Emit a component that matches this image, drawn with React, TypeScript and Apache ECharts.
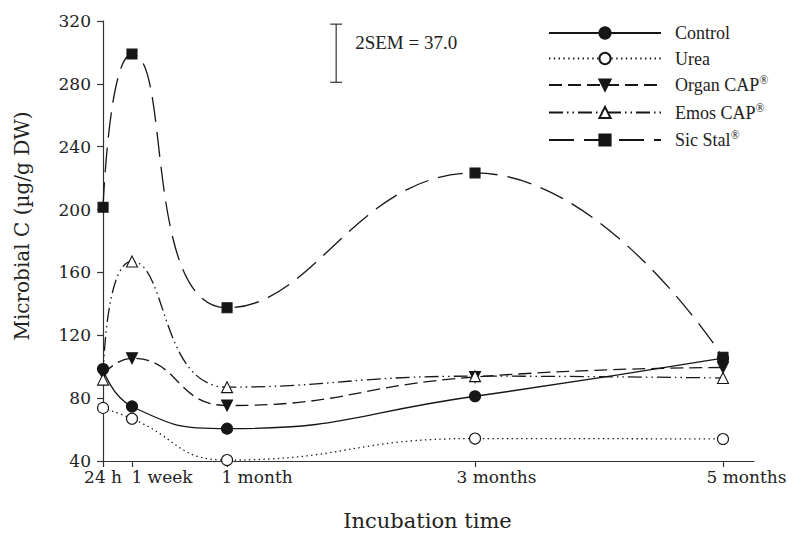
import React, { useEffect, useRef } from "react";
import * as echarts from "echarts";

// Incubation time in days (24 h plotted at day 0)
const days = [0, 7, 30, 90, 150];
const tickLabels = ["24 h", "1 week", "1 month", "3 months", "5 months"];

const seriesNames = ["Control", "Urea", "Organ CAP®", "Emos CAP®", "Sic Stal®"];
const control = [98.5, 74.7, 60.6, 81.2, 105.4];
const urea = [73.8, 66.9, 40.6, 54.3, 54.0];
const organCap = [95.3, 105.4, 75.3, 93.5, 99.5];
const emosCap = [91.8, 167, 87, 94, 92.8];
const sicStal = [201.5, 299, 137.5, 223.3, 106];

const semDay = 56.4;
const semLow = 281;
const semHigh = 318;
const semLabel = "2SEM = 37.0";
const yTitle = "Microbial C (µg/g DW)";
const xTitle = "Incubation time";

const INK = "#161616";
const AXIS = "#333";
const labelPad = [0, 60, 60, 43, 47];

export default function App() {
  const ref = useRef<HTMLDivElement>(null);
  useEffect(() => {
    document.body.style.margin = "0";
    if (!ref.current) return;
    const chart = echarts.init(ref.current, null, { renderer: "svg" });
    const pairs = (vals: number[]) => days.map((d, i) => [d, vals[i]]);
    const lineSeries = (
      name: string,
      vals: number[],
      dash: any,
      symbol: string,
      size: number,
      filled: boolean
    ) => ({
      type: "line",
      name,
      data: pairs(vals),
      smooth: 0.5,
      clip: false,
      symbol,
      symbolSize: size,
      showAllSymbol: true,
      lineStyle: { color: INK, width: 1.3, type: dash },
      itemStyle: {
        color: filled ? INK : "#fff",
        borderColor: INK,
        borderWidth: 1.1,
      },
      emphasis: { disabled: true },
      z: 3,
    });
    const rich: any = {};
    labelPad.forEach((p, i) => {
      rich["l" + i] = {
        padding: [0, 0, 0, p],
        fontFamily: "DejaVu Serif",
        fontSize: 17,
        color: "#222",
      };
    });
    const option: any = {
      animation: false,
      grid: { left: 101, right: 49, top: 21, bottom: 72 },
      graphic: [
        {
          type: "text",
          x: 22,
          y: 226,
          rotation: Math.PI / 2,
          style: {
            text: yTitle,
            fontFamily: "DejaVu Serif",
            fontSize: 20,
            fill: "#222",
            align: "center",
            verticalAlign: "middle",
          },
        },
      ],
      xAxis: {
        type: "value",
        min: -0.5,
        max: 157.5,
        splitLine: { show: false },
        axisLine: { lineStyle: { color: AXIS, width: 1.2 } },
        axisTick: {
          customValues: days,
          length: 6,
          lineStyle: { color: AXIS, width: 1.2 },
        },
        axisLabel: {
          customValues: days,
          margin: 7,
          formatter: (v: number) => {
            const i = days.indexOf(v);
            return i < 0 ? "" : `{l${i}|${tickLabels[i]}}`;
          },
          rich,
        },
        name: xTitle,
        nameLocation: "middle",
        nameGap: 49,
        nameTextStyle: {
          fontFamily: "DejaVu Serif",
          fontSize: 21,
          color: "#222",
        },
      },
      yAxis: {
        type: "value",
        min: 40,
        max: 320,
        interval: 40,
        splitLine: { show: false },
        axisLine: { show: true, lineStyle: { color: AXIS, width: 1.2 } },
        axisTick: { show: true, length: 6, lineStyle: { color: AXIS, width: 1.2 } },
        axisLabel: {
          margin: 10,
          fontFamily: "DejaVu Serif",
          fontSize: 17,
          color: "#222",
        },
      },
      legend: {
        data: seriesNames,
        orient: "vertical",
        left: 543,
        top: 18,
        itemWidth: 112,
        itemHeight: 14,
        itemGap: 5.5,
        selectedMode: false,
        formatter: (name: string) => name.replace("®", "{s|®}"),
        textStyle: {
          fontFamily: "Liberation Serif",
          fontSize: 18,
          lineHeight: 20,
          color: "#222",
          padding: [0, 0, 0, 9],
          rich: {
            s: {
              fontFamily: "Liberation Serif",
              fontSize: 12,
              lineHeight: 8,
              padding: [0, 0, 10, 0],
              color: "#222",
            },
          },
        },
      },
      series: [
        lineSeries(seriesNames[0], control, "solid", "circle", 11, true),
        lineSeries(seriesNames[1], urea, [1.4, 3.4], "circle", 11, false),
        lineSeries(
          seriesNames[2],
          organCap,
          [13, 6],
          "path://M0,0L10,0L5,9Z",
          11,
          true
        ),
        lineSeries(
          seriesNames[3],
          emosCap,
          [14, 4, 1.5, 4, 1.5, 4],
          "triangle",
          11,
          false
        ),
        lineSeries(seriesNames[4], sicStal, [25, 10], "rect", 10, true),
        {
          type: "custom",
          name: "sem",
          data: [[semDay, semLow, semHigh]],
          encode: { x: 0, y: [1, 2] },
          silent: true,
          clip: false,
          renderItem: (params: any, api: any) => {
            const top = api.coord([api.value(0), api.value(2)]);
            const bot = api.coord([api.value(0), api.value(1)]);
            const st = { stroke: AXIS, lineWidth: 1.2 };
            return {
              type: "group",
              children: [
                { type: "line", shape: { x1: top[0], y1: top[1], x2: bot[0], y2: bot[1] }, style: st },
                { type: "line", shape: { x1: top[0] - 6, y1: top[1], x2: top[0] + 6, y2: top[1] }, style: st },
                { type: "line", shape: { x1: bot[0] - 6, y1: bot[1], x2: bot[0] + 6, y2: bot[1] }, style: st },
                {
                  type: "text",
                  x: top[0] + 19,
                  y: top[1] + 18,
                  style: {
                    text: semLabel,
                    fontFamily: "Liberation Serif",
                    fontSize: 19,
                    fill: "#222",
                    verticalAlign: "middle",
                    align: "left",
                  },
                },
              ],
            };
          },
        },
      ],
    };
    chart.setOption(option);
    return () => chart.dispose();
  }, []);
  return <div ref={ref} style={{ width: 803, height: 536 }} />;
}
